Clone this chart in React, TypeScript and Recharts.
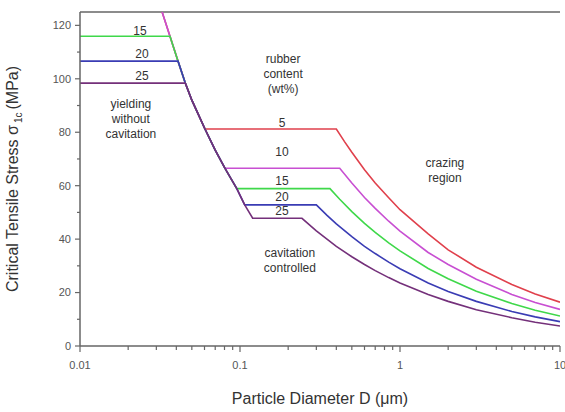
import { LineChart, Line, XAxis, YAxis, ReferenceDot, ReferenceLine, Label } from 'recharts';

// shared steep "cavitation onset" branch
const steepX = [0.0326, 0.0365, 0.041, 0.0455, 0.05, 0.0604, 0.07, 0.0806, 0.0955, 0.107, 0.12];
const steepY = [125, 115.9, 106.6, 98.4, 92, 81.2, 73.3, 66.5, 58.9, 52.8, 47.8];

// crazing branch x positions
const crazeX = [0.5, 0.6, 0.7, 0.85, 1, 1.5, 2, 3, 5, 7, 10];

const red5 = [81.2, 81.2, 72.5, 66, 61, 55.5, 51, 42, 36, 29.5, 23, 19.5, 16.4];
const mag10 = [66.5, 66.5, 61, 55.6, 51.5, 46.7, 43, 35, 30.5, 25, 19.3, 16.3, 13.7];
const green15 = [58.9, 58.9, 50.3, 45.9, 42.5, 38.6, 35.6, 29, 25.2, 20.5, 15.9, 13.4, 11.2];
const blue20 = [52.8, 52.8, 40.9, 37.3, 34.6, 31.4, 28.9, 23.6, 20.4, 16.7, 12.9, 10.9, 9.1];
const purple25 = [47.8, 47.8, 33.4, 30.5, 28.2, 25.6, 23.6, 19.3, 16.7, 13.6, 10.6, 8.9, 7.5];

// plateau edges: end of lower plateau before crazing branch
const plateauEnd = [0.4, 0.42, 0.365, 0.3, 0.244];
const steepEnd = [5, 7, 8, 9, 10]; // index into steep arrays where lower plateau begins
const upperPlateau = [null, null, 115.9, 106.6, 98.4];
const steepStart = [0, 0, 1, 2, 3];
// extra points between plateau end and 0.5
const bendX = [[0.45], [], [0.42], [0.35, 0.4], [0.3, 0.4]];
const bendY = [[76.5], [], [54.9], [48.9, 45.7], [43.1, 37.3]];

const series = [
  { name: '5', vals: red5, color: '#e0404c' },
  { name: '10', vals: mag10, color: '#c84fd2' },
  { name: '15', vals: green15, color: '#3fd84a' },
  { name: '20', vals: blue20, color: '#3a3cb4' },
  { name: '25', vals: purple25, color: '#74307a' },
];

const buildSeries = (i: number) => {
  const pts: { x: number; y: number }[] = [];
  const up = upperPlateau[i];
  if (up !== null) pts.push({ x: 0.01, y: up });
  for (let k = steepStart[i]; k <= steepEnd[i]; k++) pts.push({ x: steepX[k], y: steepY[k] });
  const v = series[i].vals;
  pts.push({ x: plateauEnd[i], y: v[1] });
  bendX[i].forEach((bx, j) => pts.push({ x: bx, y: bendY[i][j] }));
  crazeX.forEach((cx, j) => pts.push({ x: cx, y: v[j + 2] }));
  return pts;
};

const xMajor = [0.01, 0.1, 1, 10];
const xTicks = [
  0.01, 0.02, 0.03, 0.04, 0.05, 0.06, 0.07, 0.08, 0.09,
  0.1, 0.2, 0.3, 0.4, 0.5, 0.6, 0.7, 0.8, 0.9,
  1, 2, 3, 4, 5, 6, 7, 8, 9, 10,
];
const yTicks = [0, 10, 20, 30, 40, 50, 60, 70, 80, 90, 100, 110, 120];

const notes = [
  { x: 0.0237, y: 117.8, lines: ['15'] },
  { x: 0.0244, y: 109.5, lines: ['20'] },
  { x: 0.0244, y: 101.3, lines: ['25'] },
  { x: 0.0208, y: 85.2, lines: ['yielding', 'without', 'cavitation'] },
  { x: 0.186, y: 102, lines: ['rubber', 'content', '(wt%)'] },
  { x: 0.183, y: 83.4, lines: ['5'] },
  { x: 0.183, y: 72.5, lines: ['10'] },
  { x: 0.183, y: 61.7, lines: ['15'] },
  { x: 0.183, y: 55.9, lines: ['20'] },
  { x: 0.183, y: 50.6, lines: ['25'] },
  { x: 1.91, y: 65.8, lines: ['crazing', 'region'] },
  { x: 0.205, y: 32.1, lines: ['cavitation', 'controlled'] },
];

const FONT = 'Liberation Sans, Arial, sans-serif';
const AXIS = '#666';

const XTick = (props: any) => {
  const { x, y, payload } = props;
  const major = xMajor.some((m) => Math.abs(m - payload.value) < 1e-9);
  const axisY = y - 15;
  return (
    <g>
      <line x1={x} x2={x} y1={axisY} y2={axisY + (major ? 6 : 4)} stroke={AXIS} strokeWidth={1.2} />
      {major && (
        <text x={x} y={y} dy="0.71em" textAnchor="middle" fontSize={11} fill="#555" fontFamily={FONT}>
          {payload.value}
        </text>
      )}
    </g>
  );
};

const YTick = (props: any) => {
  const { x, y, payload } = props;
  const major = payload.value % 20 === 0;
  const axisX = x + 9;
  return (
    <g>
      <line x1={axisX} x2={axisX - (major ? 5 : 3)} y1={y} y2={y} stroke={AXIS} strokeWidth={1.2} />
      {major && (
        <text x={x} y={y} dy="0.35em" textAnchor="end" fontSize={11} fill="#555" fontFamily={FONT}>
          {payload.value}
        </text>
      )}
    </g>
  );
};

const RightTick = (props: any) => {
  const { x, y, payload } = props;
  const major = payload.value % 20 === 0;
  const axisX = x - 9;
  return <line x1={axisX} x2={axisX - (major ? 5 : 3)} y1={y} y2={y} stroke={AXIS} strokeWidth={1.2} />;
};

const noteLabel = (lines: string[]) => (props: any) => {
  const { viewBox } = props;
  const cx = viewBox.x + viewBox.width / 2;
  const cy = viewBox.y + viewBox.height / 2;
  const lh = 15;
  const top = cy - ((lines.length - 1) * lh) / 2;
  return (
    <text textAnchor="middle" fontSize={12} fill="#333" fontFamily={FONT}>
      {lines.map((l, i) => (
        <tspan key={i} x={cx} y={top + i * lh} dy="0.35em">
          {l}
        </tspan>
      ))}
    </text>
  );
};

const YTitle = (props: any) => {
  const { viewBox } = props;
  const cx = viewBox.x - 2;
  const cy = 179;
  return (
    <text
      transform={`translate(${cx},${cy}) rotate(-90)`}
      textAnchor="middle"
      fontSize={16}
      fill="#333"
      fontFamily={FONT}
    >
      Critical Tensile Stress σ
      <tspan fontSize={10} dy={4} dx={2}>1c</tspan>
      <tspan dy={-4} dx={3}>(MPa)</tspan>
    </text>
  );
};

const XTitle = (props: any) => {
  const { viewBox } = props;
  return (
    <text x={320} y={viewBox.y + viewBox.height + 28} textAnchor="middle" fontSize={16} fill="#333" fontFamily={FONT}>
      Particle Diameter D (μm)
    </text>
  );
};

export default function App() {
  return (
    <div style={{ position: 'absolute', left: 0, top: 0 }}>
      <LineChart width={565} height={412} margin={{ top: 12, right: 5, bottom: 36, left: 20 }}>
        <XAxis
          xAxisId="b"
          type="number"
          dataKey="x"
          scale="log"
          domain={[0.01, 10]}
          allowDataOverflow
          ticks={xTicks}
          tick={<XTick />}
          tickLine={false}
          tickSize={5}
          tickMargin={10}
          height={30}
          interval={0}
          stroke={AXIS}
          strokeWidth={1.5}
        >
          <Label content={<XTitle />} />
        </XAxis>
        <YAxis
          yAxisId="l"
          type="number"
          domain={[0, 125]}
          allowDataOverflow
          ticks={yTicks}
          tick={<YTick />}
          tickLine={false}
          tickSize={5}
          tickMargin={4}
          width={60}
          interval={0}
          stroke={AXIS}
          strokeWidth={1.5}
        >
          <Label content={<YTitle />} />
        </YAxis>
        <YAxis
          yAxisId="r"
          orientation="right"
          type="number"
          domain={[0, 125]}
          allowDataOverflow
          ticks={yTicks}
          tick={<RightTick />}
          tickLine={false}
          tickSize={5}
          tickMargin={4}
          width={0}
          interval={0}
          stroke={AXIS}
          strokeWidth={1.5}
        />
        <ReferenceLine xAxisId="b" yAxisId="l" y={125} stroke={AXIS} strokeWidth={1.5} />
        {series.map((s, i) => (
          <Line
            key={s.name}
            xAxisId="b"
            yAxisId="l"
            data={buildSeries(i)}
            dataKey="y"
            type="linear"
            stroke={s.color}
            strokeWidth={1.6}
            dot={false}
            isAnimationActive={false}
          />
        ))}
        {notes.map((n, i) => (
          <ReferenceDot
            key={i}
            xAxisId="b"
            yAxisId="l"
            x={n.x}
            y={n.y}
            r={0}
            fill="none"
            stroke="none"
            label={{ content: noteLabel(n.lines) }}
          />
        ))}
      </LineChart>
    </div>
  );
}
